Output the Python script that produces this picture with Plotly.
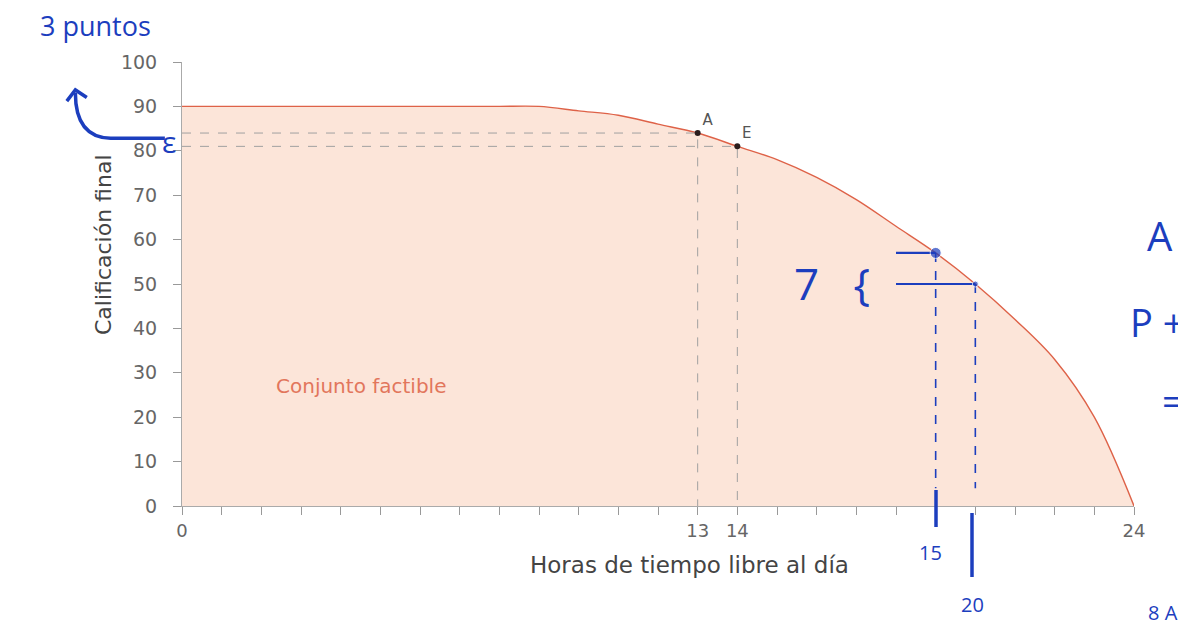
import plotly.graph_objects as go

# ---- data ----
free_hours = list(range(25))
final_grade = [90, 90, 90, 90, 90, 90, 90, 90, 90, 90,
               89, 88, 86, 84, 81, 78, 74, 69, 63, 57,
               50, 42, 33, 20, 0]
point_labels = ["A", "E"]
point_hours = [13, 14]
point_grades = [84, 81]
hand_hours = [19, 20]
hand_grades = [57, 50]
x_tick_vals = list(range(25))
x_tick_text = ["0"] + [""] * 12 + ["13", "14"] + [""] * 9 + ["24"]
y_tick_vals = [0, 10, 20, 30, 40, 50, 60, 70, 80, 90, 100]

LINE = "rgb(222,98,72)"
FILL = "rgba(252,226,213,0.9)"
BLUE = "rgb(28,62,190)"
FONT = "DejaVu Sans"
HFONT = "Open Sans"

fig = go.Figure()

fig.add_trace(go.Scatter(
    x=free_hours, y=final_grade, mode="lines",
    line=dict(color=LINE, width=1.4, shape="spline", smoothing=1.0),
    fill="tozeroy", fillcolor=FILL, hoverinfo="skip", showlegend=False))

# dashed guide lines
for h, g in zip(point_hours, point_grades):
    fig.add_trace(go.Scatter(x=[0, h, h], y=[g, g, 0], mode="lines",
                             line=dict(color="#a0a0a0", width=1, dash="dash"),
                             showlegend=False, hoverinfo="skip"))

fig.add_trace(go.Scatter(
    x=point_hours, y=point_grades, mode="markers+text",
    marker=dict(color="#2b1d1d", size=6),
    text=point_labels, textposition="top right",
    textfont=dict(family=FONT, size=15, color="#555"),
    showlegend=False, cliponaxis=False))

# handwritten-style blue additions
seg_len = [1.0, 2.0]
for h, g, L in zip(hand_hours, hand_grades, seg_len):
    fig.add_trace(go.Scatter(x=[h, h], y=[g, 4], mode="lines",
                             line=dict(color=BLUE, width=1.6, dash="dash"),
                             showlegend=False, hoverinfo="skip"))
    fig.add_trace(go.Scatter(x=[h - L, h], y=[g, g], mode="lines",
                             line=dict(color=BLUE, width=2.2),
                             showlegend=False, hoverinfo="skip"))
fig.add_trace(go.Scatter(x=hand_hours, y=hand_grades, mode="markers",
                         marker=dict(color=BLUE, size=[11, 6]),
                         showlegend=False, cliponaxis=False))

fig.add_annotation(x=4.5, y=27, text="Conjunto factible", showarrow=False,
                   font=dict(family=FONT, size=20, color="rgb(226,118,92)"))


def ptext(px, py, txt, size, color, family, anchor="center", angle=0):
    # position given in page pixels of the photographed figure
    fig.add_annotation(xref="paper", yref="paper",
                       x=(px - 182) / 952, y=(506 - py) / 444,
                       text=txt, showarrow=False, xanchor=anchor,
                       yanchor="middle", align="center", textangle=angle,
                       font=dict(size=size, color=color, family=family))


# axis titles
ptext(689, 565, "Horas de tiempo libre al día", 23, "#444", FONT)
ptext(103, 245, "Calificación final", 22, "#444", FONT, angle=-90)

# handwriting
ptext(95, 26, "3 puntos", 27, BLUE, HFONT)
ptext(169, 141, "ε", 30, BLUE, HFONT)
ptext(832, 283, "7   {", 44, BLUE, HFONT)
ptext(930, 552, "15", 20, BLUE, HFONT)
ptext(972, 604, "20", 20, BLUE, HFONT)
ptext(1160, 235, "A", 40, BLUE, HFONT)
ptext(1186, 322, "P +", 38, BLUE, HFONT, "right")
ptext(1186, 400, "=", 38, BLUE, HFONT, "right")
ptext(1180, 612, "8 A", 20, BLUE, HFONT, "right")

# hand-drawn marks below the axis and curved arrow
fig.add_shape(type="line", xref="paper", yref="paper",
              x0=(936 - 182) / 952, x1=(936 - 182) / 952,
              y0=(506 - 490) / 444, y1=(506 - 527) / 444,
              line=dict(color=BLUE, width=3.5))
fig.add_shape(type="line", xref="paper", yref="paper",
              x0=(972 - 182) / 952, x1=(972 - 182) / 952,
              y0=(506 - 513) / 444, y1=(506 - 577) / 444,
              line=dict(color=BLUE, width=3.5))
fig.add_shape(type="path", xref="paper", yref="paper",
              path="M -0.018,0.828 L -0.075,0.828 Q -0.112,0.83 -0.112,0.93",
              line=dict(color=BLUE, width=3.5))
fig.add_shape(type="path", xref="paper", yref="paper",
              path="M -0.121,0.912 L -0.112,0.937 L -0.100,0.92",
              line=dict(color=BLUE, width=3.5))

fig.update_layout(
    width=1178, height=624,
    margin=dict(l=174, r=52, t=54, b=126),
    paper_bgcolor="white", plot_bgcolor="white",
    font=dict(family=FONT, color="#555"),
    xaxis=dict(range=[0, 24], tickmode="array", tickvals=x_tick_vals,
               ticktext=x_tick_text, ticks="outside", ticklen=8,
               tickcolor="#999", showline=True, linecolor="#aaa",
               showgrid=False, zeroline=False,
               tickfont=dict(size=18, color="#666")),
    yaxis=dict(range=[0, 100], tickmode="array", tickvals=y_tick_vals,
               ticks="outside", ticklen=8, tickcolor="#999",
               ticklabelstandoff=12,
               showline=True, linecolor="#aaa", showgrid=False,
               zeroline=False, tickfont=dict(size=19, color="#666")),
)

fig.write_html("out.html")
